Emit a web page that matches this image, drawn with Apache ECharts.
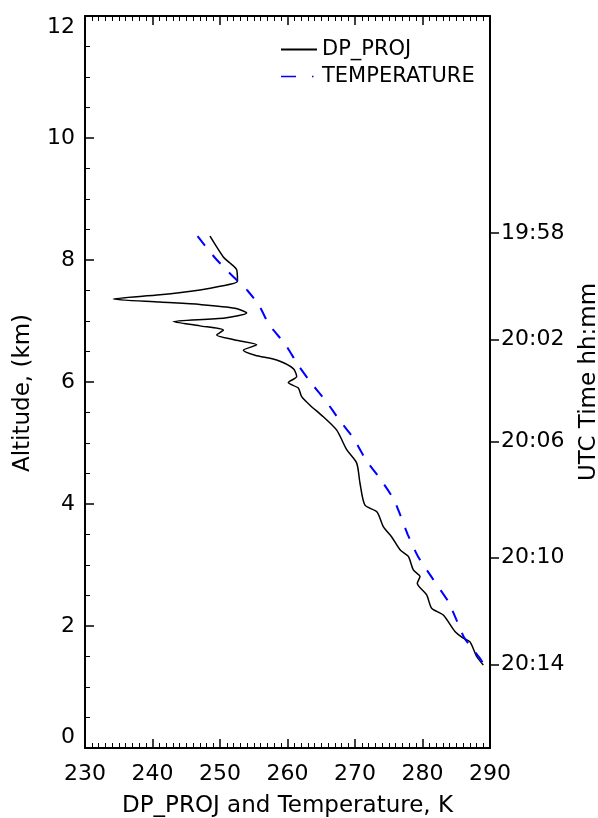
<!DOCTYPE html>
<html><head><meta charset="utf-8">
<script src="https://cdn.jsdelivr.net/npm/echarts@6/dist/echarts.min.js"></script>
<style>html,body{margin:0;padding:0;background:#fff}#c{width:598px;height:818px}</style>
</head><body><div id="c"></div>
<script>
// DP_PROJ profile (K, km)
const dpTemp = [248.52,250.49,251.48,252.47,252.59,250.00,247.04,241.11,234.19,241.11,247.04,252.22,253.95,250.74,243.08,247.04,250.49,249.51,252.22,255.44,253.45,255.19,258.40,260.86,261.36,260.12,261.60,262.10,263.33,265.30,267.29,268.77,270.25,270.74,271.48,273.26,274.19,275.44,276.67,277.90,278.64,279.63,279.23,280.62,281.36,283.08,284.81,286.04,287.04,288.03,289.01];
const dpAlt  = [8.39,8.05,7.95,7.84,7.65,7.57,7.51,7.43,7.36,7.31,7.27,7.21,7.13,7.05,6.99,6.92,6.85,6.77,6.69,6.61,6.52,6.44,6.36,6.22,6.09,5.99,5.90,5.76,5.62,5.43,5.21,4.89,4.67,4.34,3.98,3.87,3.63,3.46,3.25,3.14,2.92,2.81,2.70,2.51,2.29,2.18,1.91,1.80,1.74,1.50,1.36];
// TEMPERATURE profile (K, km)
const tempT   = [246.67,249.38,251.93,254.07,255.81,257.16,258.15,259.78,261.56,263.53,265.75,267.66,269.88,271.63,273.75,275.73,276.67,277.85,279.33,281.48,283.82,285.00,286.12,287.53,288.52,288.96];
const tempAlt = [8.39,8.02,7.73,7.50,7.25,6.96,6.82,6.60,6.28,5.98,5.68,5.38,5.06,4.72,4.41,4.08,3.83,3.49,3.14,2.78,2.40,2.11,1.82,1.61,1.47,1.39];
// Right axis: UTC time ticks at altitudes
const utcTickAlt    = [8.44, 6.70, 5.02, 3.12, 1.37];
const utcTickLabels = ['19:58','20:02','20:06','20:10','20:14'];
const seriesNames = ['DP_PROJ','TEMPERATURE'];

const FONT = 'DejaVu Sans';
const zip = (a, b) => a.map((v, i) => [v, b[i]]);

const chart = echarts.init(document.getElementById('c'), null, {renderer: 'canvas'});
function xAxisDef(pos, extra) {
  return Object.assign({
    type: 'value', min: 230, max: 290, interval: 10, position: pos, gridIndex: 0,
    axisLine: {show: true, onZero: false, lineStyle: {color: '#000', width: 2}},
    axisTick: {show: true, inside: true, length: 9, lineStyle: {color: '#000', width: 1.5}},
    minorTick: {show: true, splitNumber: 10, length: 5, lineStyle: {color: '#000', width: 1}},
    splitLine: {show: false}
  }, extra);
}
chart.setOption({
  backgroundColor: '#fff',
  animation: false,
  textStyle: {fontFamily: FONT},
  grid: {left: 85, right: 108, top: 16, bottom: 70, containLabel: false, outerBoundsMode: 'none'},
  legend: {
    orient: 'vertical', left: 280, top: 39, padding: 0, itemWidth: 36, itemHeight: 12, itemGap: 6,
    itemStyle: {opacity: 0},
    textStyle: {fontFamily: FONT, fontSize: 21, color: '#000'},
    data: [
      {name: seriesNames[0]},
      {name: seriesNames[1], lineStyle: {type: [15, 16, 1.5, 16], width: 1.5}}
    ]
  },
  xAxis: [
    xAxisDef('bottom', {
      name: 'DP_PROJ and Temperature, K', nameLocation: 'middle', nameGap: 47,
      nameTextStyle: {fontFamily: FONT, fontSize: 23, color: '#000'},
      axisLabel: {show: true, margin: 15, fontFamily: FONT, fontSize: 22, color: '#000'}
    }),
    xAxisDef('top', {axisLabel: {show: false}})
  ],
  yAxis: [
    {
      type: 'value', min: 0, max: 12, interval: 2, position: 'left',
      name: 'Altitude, (km)', nameLocation: 'middle', nameGap: 50, nameRotate: 90,
      nameTextStyle: {fontFamily: FONT, fontSize: 23, color: '#000', padding: [0, 22, 0, 0]},
      axisLine: {show: true, onZero: false, lineStyle: {color: '#000', width: 2}},
      axisTick: {show: true, inside: true, length: 9, lineStyle: {color: '#000', width: 1.5}},
      minorTick: {show: true, splitNumber: 4, length: 5, lineStyle: {color: '#000', width: 1}},
      splitLine: {show: false},
      axisLabel: {margin: 10, fontFamily: FONT, fontSize: 22, color: '#000',
        verticalAlignMaxLabel: 'top', verticalAlignMinLabel: 'bottom'}
    },
    {
      type: 'value', min: 0, max: 12, position: 'right',
      name: 'UTC Time hh:mm', nameLocation: 'middle', nameGap: 88, nameRotate: 90,
      nameTextStyle: {fontFamily: FONT, fontSize: 23, color: '#000'},
      axisLine: {show: true, onZero: false, lineStyle: {color: '#000', width: 2}},
      axisTick: {show: true, inside: false, length: 9, customValues: utcTickAlt, lineStyle: {color: '#000', width: 1.5}},
      splitLine: {show: false},
      axisLabel: {margin: 11, fontFamily: FONT, fontSize: 22, color: '#000', customValues: utcTickAlt,
        formatter: function (v) {
          let best = 0, d = 1e9;
          utcTickAlt.forEach((a, i) => { if (Math.abs(a - v) < d) { d = Math.abs(a - v); best = i; } });
          return utcTickLabels[best];
        }}
    }
  ],
  series: [
    {
      name: seriesNames[0], type: 'line', xAxisIndex: 0, yAxisIndex: 0,
      data: zip(dpTemp, dpAlt), showSymbol: false, symbol: 'none', smooth: 0.25,
      lineStyle: {color: '#000', width: 1.5}, itemStyle: {color: '#000'}
    },
    {
      name: seriesNames[1], type: 'line', xAxisIndex: 0, yAxisIndex: 0,
      data: zip(tempT, tempAlt), showSymbol: false, symbol: 'none', smooth: 0.2,
      lineStyle: {color: '#0000ff', width: 2, type: [12, 12]}, itemStyle: {color: '#0000ff'}
    },
    {
      name: 'topAxisHelper', type: 'line', xAxisIndex: 1, yAxisIndex: 0,
      data: [], silent: true
    }
  ]
});
</script>
</body></html>
